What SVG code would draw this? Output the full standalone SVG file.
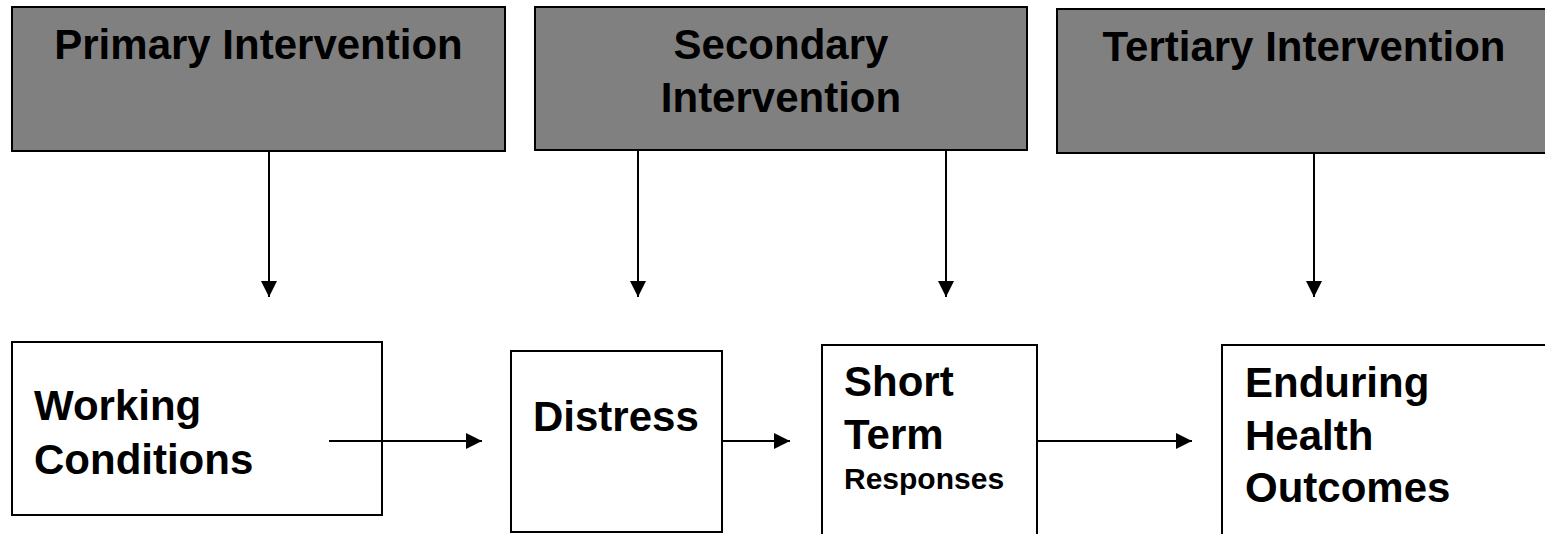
<svg xmlns="http://www.w3.org/2000/svg" width="1545" height="534" viewBox="0 0 1545 534">
<style>
.top{fill:#808080;stroke:#000;stroke-width:2}
.box{fill:#fff;stroke:#000;stroke-width:2}
.t{font-family:"Liberation Sans",Arial,sans-serif;font-weight:bold;font-size:42px;fill:#000}
.tc{text-anchor:middle}
.sm{font-size:30px}
.c{stroke:#000;stroke-width:2;fill:none;marker-end:url(#ah)}
</style>
<defs>
<marker id="ah" markerUnits="userSpaceOnUse" markerWidth="17" markerHeight="17" refX="16" refY="8" orient="auto">
<path d="M0,0 L16,8 L0,16 Z" fill="#000"/>
</marker>
</defs>
<rect width="1545" height="534" fill="#fff"/>
<g id="primary">
<rect class="top" x="12" y="7" width="493" height="144"/>
<text class="t tc" x="258.5" y="59">Primary Intervention</text>
</g>
<g id="secondary">
<rect class="top" x="535" y="7" width="492" height="143"/>
<text class="t tc" x="781" y="59">Secondary</text>
<text class="t tc" x="781" y="112">Intervention</text>
</g>
<g id="tertiary">
<rect class="top" x="1057" y="9" width="500" height="144"/>
<text class="t tc" x="1304" y="61">Tertiary Intervention</text>
</g>
<g id="working">
<rect class="box" x="12" y="342" width="370" height="173"/>
<text class="t" x="34" y="420">Working</text>
<text class="t" x="34" y="474">Conditions</text>
</g>
<g id="distress">
<rect class="box" x="511" y="351" width="211" height="181"/>
<text class="t" x="533" y="431">Distress</text>
</g>
<g id="shortterm">
<rect class="box" x="822" y="345" width="215" height="200"/>
<text class="t" x="844" y="396">Short</text>
<text class="t" x="844" y="449">Term</text>
<text class="t sm" x="844" y="489">Responses</text>
</g>
<g id="enduring">
<rect class="box" x="1222" y="345" width="340" height="200"/>
<text class="t" x="1245" y="397">Enduring</text>
<text class="t" x="1245" y="450">Health</text>
<text class="t" x="1245" y="502">Outcomes</text>
</g>
<g id="connectors">
<line class="c" x1="269" y1="152" x2="269" y2="297"/>
<line class="c" x1="638" y1="151" x2="638" y2="297"/>
<line class="c" x1="946" y1="151" x2="946" y2="297"/>
<line class="c" x1="1314" y1="154" x2="1314" y2="297"/>
<line class="c" x1="329" y1="441" x2="482" y2="441"/>
<line class="c" x1="722" y1="441" x2="790" y2="441"/>
<line class="c" x1="1037" y1="441" x2="1192" y2="441"/>
</g>
</svg>
